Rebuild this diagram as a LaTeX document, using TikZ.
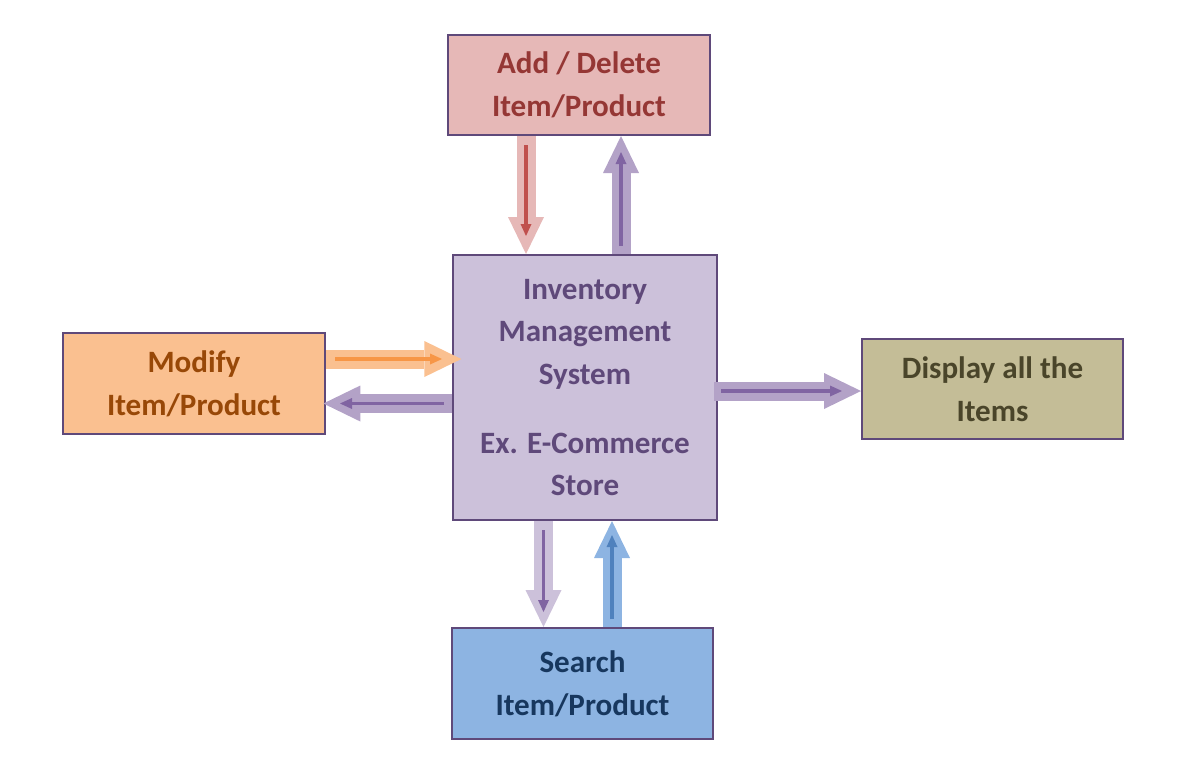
\documentclass[tikz,border=0pt]{standalone}
\usepackage{fontspec}
\setmainfont{Carlito}
\usetikzlibrary{arrows.meta}

\definecolor{rim}{HTML}{5F497A}
\definecolor{pinkfill}{HTML}{E6B8B7}
\definecolor{pinktext}{HTML}{953735}
\definecolor{lilacfill}{HTML}{CCC1DA}
\definecolor{lilactext}{HTML}{5F497A}
\definecolor{orangefill}{HTML}{FAC090}
\definecolor{orangetext}{HTML}{984807}
\definecolor{olivefill}{HTML}{C4BD97}
\definecolor{olivetext}{HTML}{4A452A}
\definecolor{bluefill}{HTML}{8DB4E2}
\definecolor{bluetext}{HTML}{17375E}
\definecolor{redline}{HTML}{C0504D}
\definecolor{purplebody}{HTML}{B3A2C7}
\definecolor{purpleline}{HTML}{8064A2}
\definecolor{orangeline}{HTML}{F79646}
\definecolor{blueline}{HTML}{4F81BD}

\tikzset{
  box/.style={draw=rim, line width=1.5pt, align=center, inner sep=0pt,
    font=\fontsize{23.3}{32}\selectfont\bfseries},
  outer/.style={line width=14.25pt,
    -{Triangle[width=27pt,length=27.75pt,line width=0pt]}},
  inner/.style={line width=2.6pt,
    -{Triangle[width=8.25pt,length=9pt,line width=0pt]}}
}

\begin{document}
\begin{tikzpicture}[x=0.75pt,y=-0.75pt]

    \useasboundingbox (0,0) rectangle (1195,769);

    % boxes
    \node[box, fill=lilacfill, text=lilactext, minimum width=198pt, minimum height=198.75pt] (sys) at (585,387.5)
      {Inventory\\Management\\System\\[19.5pt]Ex. E-Commerce\\Store};
    \node[box, fill=pinkfill, text=pinktext, minimum width=196.5pt, minimum height=75pt] (addel) at (579,85)
      {Add / Delete\\Item/Product};
    \node[box, fill=orangefill, text=orangetext, minimum width=196.5pt, minimum height=75.75pt] (modify) at (194,383.5)
      {Modify\\Item/Product};
    \node[box, fill=olivefill, text=olivetext, minimum width=195.75pt, minimum height=75pt] (display) at (992.5,389)
      {Display all the\\Items};
    \node[box, fill=bluefill, text=bluetext, minimum width=195.75pt, minimum height=83.25pt] (search) at (582.5,683.5)
      {Search\\Item/Product};

    % add/delete <-> system
    \draw[outer, pinkfill] (526,0 |- addel.south) -- (526,0 |- sys.north);
    \draw[inner, redline] (526,145) -- (526,236);
    \draw[outer, purplebody] (621,0 |- sys.north) -- (621,0 |- addel.south);
    \draw[inner, purpleline] (621,246) -- (621,152);

    % modify <-> system
    \draw[outer, orangefill] (modify.east |- 0,359) -- ([xshift=7pt]sys.west |- 0,359);
    \draw[inner, orangeline] (335,359) -- (442,359);
    \draw[outer, purplebody] (sys.west |- 0,403.5) -- ([xshift=-2pt]modify.east |- 0,403.5);
    \draw[inner, purpleline] (444,403.5) -- (340,403.5);

    % system -> display
    \draw[outer, purplebody] ([xshift=-3pt]sys.east |- 0,391) -- (display.west |- 0,391);
    \draw[inner, purpleline] (721,391) -- (842,391);

    % system <-> search
    \draw[outer, lilacfill] (543.5,0 |- sys.south) -- (543.5,0 |- search.north);
    \draw[inner, purpleline] (543.5,530) -- (543.5,612);
    \draw[outer, bluefill] (612,0 |- search.north) -- (612,0 |- sys.south);
    \draw[inner, blueline] (612,619) -- (612,535);

\end{tikzpicture}
\end{document}
